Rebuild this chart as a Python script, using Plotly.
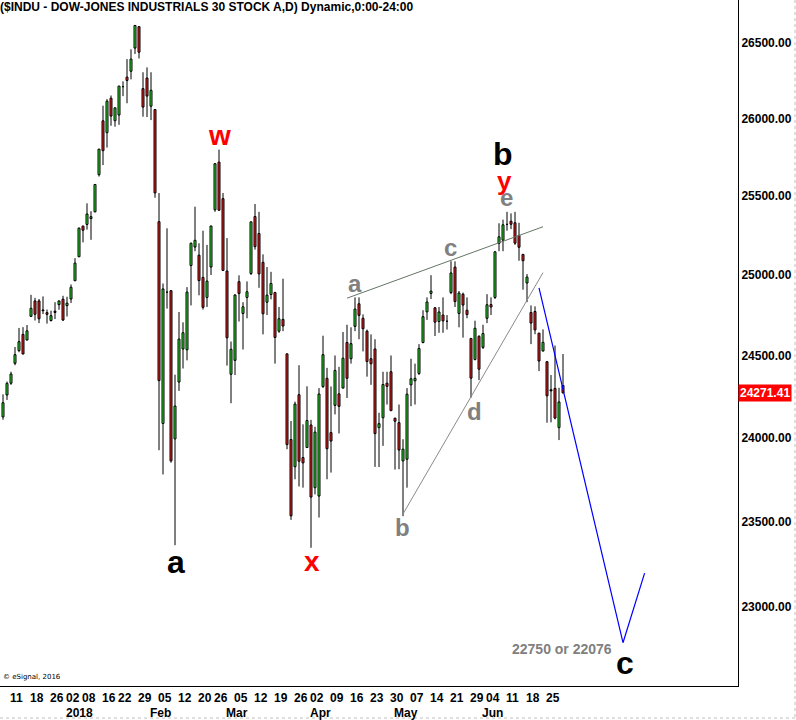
import math
import datetime as dt
import plotly.graph_objects as go

# ---------------- data (daily OHLC, $INDU) ----------------
dates = [
    "2017-12-07", "2017-12-08", "2017-12-11", "2017-12-12", "2017-12-13", "2017-12-14", "2017-12-15",
    "2017-12-18", "2017-12-19", "2017-12-20", "2017-12-21", "2017-12-22", "2017-12-26", "2017-12-27",
    "2017-12-28", "2017-12-29", "2018-01-02", "2018-01-03", "2018-01-04", "2018-01-05", "2018-01-08",
    "2018-01-09", "2018-01-10", "2018-01-11", "2018-01-12", "2018-01-16", "2018-01-17", "2018-01-18",
    "2018-01-19", "2018-01-22", "2018-01-23", "2018-01-24", "2018-01-25", "2018-01-26", "2018-01-29",
    "2018-01-30", "2018-01-31", "2018-02-01", "2018-02-02", "2018-02-05", "2018-02-06", "2018-02-07",
    "2018-02-08", "2018-02-09", "2018-02-12", "2018-02-13", "2018-02-14", "2018-02-15", "2018-02-16",
    "2018-02-20", "2018-02-21", "2018-02-22", "2018-02-23", "2018-02-26", "2018-02-27", "2018-02-28",
    "2018-03-01", "2018-03-02", "2018-03-05", "2018-03-06", "2018-03-07", "2018-03-08", "2018-03-09",
    "2018-03-12", "2018-03-13", "2018-03-14", "2018-03-15", "2018-03-16", "2018-03-19", "2018-03-20",
    "2018-03-21", "2018-03-22", "2018-03-23", "2018-03-26", "2018-03-27", "2018-03-28", "2018-03-29",
    "2018-04-02", "2018-04-03", "2018-04-04", "2018-04-05", "2018-04-06", "2018-04-09", "2018-04-10",
    "2018-04-11", "2018-04-12", "2018-04-13", "2018-04-16", "2018-04-17", "2018-04-18", "2018-04-19",
    "2018-04-20", "2018-04-23", "2018-04-24", "2018-04-25", "2018-04-26", "2018-04-27", "2018-04-30",
    "2018-05-01", "2018-05-02", "2018-05-03", "2018-05-04", "2018-05-07", "2018-05-08", "2018-05-09",
    "2018-05-10", "2018-05-11", "2018-05-14", "2018-05-15", "2018-05-16", "2018-05-17", "2018-05-18",
    "2018-05-21", "2018-05-22", "2018-05-23", "2018-05-24", "2018-05-25", "2018-05-29", "2018-05-30",
    "2018-05-31", "2018-06-01", "2018-06-04", "2018-06-05", "2018-06-06", "2018-06-07", "2018-06-08",
    "2018-06-11", "2018-06-12", "2018-06-13", "2018-06-14", "2018-06-15", "2018-06-18", "2018-06-19",
    "2018-06-20", "2018-06-21", "2018-06-22", "2018-06-25", "2018-06-26", "2018-06-27", "2018-06-28",
    "2018-06-29",
]

opens = [
    24125, 24258, 24330, 24452, 24530, 24630, 24595, 24742, 24838, 24838, 24777, 24765, 24716, 24766,
    24815, 24849, 24809, 24850, 24964, 25115, 25309, 25320, 25357, 25400, 25638, 25987, 25910, 26135,
    25988, 26025, 26214, 26274, 26313, 26466, 26609, 26198, 26268, 26083, 26061, 25337, 24085, 24894,
    24902, 23992, 24337, 24540, 24535, 25060, 25176, 25125, 24985, 24860, 25050, 25413, 25719, 25484,
    25025, 24385, 24470, 24958, 24760, 24860, 25010, 25370, 25262, 25080, 24830, 24878, 24890, 24650,
    24723, 24510, 23988, 23825, 24260, 23880, 23940, 24076, 23700, 23650, 24310, 24360, 24030, 24195,
    24265, 24300, 24580, 24480, 24680, 24820, 24730, 24650, 24480, 24540, 24060, 24120, 24330, 24400,
    24117, 24090, 23860, 23870, 24320, 24345, 24390, 24580, 24770, 24885, 24795, 24710, 24750, 24712,
    24890, 25050, 24760, 24880, 24780, 24605, 24475, 24618, 24550, 24730, 24815, 24860, 25200, 25220,
    25320, 25340, 25330, 25250, 25130, 24950, 24766, 24772, 24638, 24527, 24462, 24290, 24298, 24060,
    24316,
]
highs = [
    24262, 24340, 24400, 24552, 24670, 24675, 24688, 24876, 24857, 24850, 24866, 24784, 24777, 24830,
    24840, 24870, 24864, 24941, 25106, 25300, 25312, 25454, 25404, 25576, 25804, 26086, 26129, 26153,
    26072, 26215, 26246, 26393, 26458, 26617, 26609, 26306, 26338, 26306, 26061, 25520, 24947, 25295,
    24903, 24382, 24769, 24705, 24924, 25205, 25433, 25200, 25280, 25190, 25310, 25710, 25800, 25520,
    25233, 24586, 24880, 24998, 24830, 24960, 25336, 25450, 25400, 25130, 25050, 25020, 24895, 24800,
    24977, 24510, 24100, 24218, 24440, 24080, 24311, 24107, 24065, 24300, 24622, 24424, 24310, 24500,
    24430, 24645, 24690, 24674, 24860, 24860, 24754, 24660, 24630, 24600, 24150, 24400, 24400, 24500,
    24120, 24200, 23990, 24300, 24480, 24450, 24570, 24780, 24860, 24999, 24800, 24800, 24860, 24750,
    25087, 25086, 24900, 24890, 24860, 24605, 24715, 24625, 24690, 24880, 24860, 25150, 25327, 25350,
    25400, 25390, 25400, 25330, 25130, 25006, 24810, 24804, 24638, 24661, 24462, 24380, 24561, 24302,
    24509,
]
lows = [
    24108, 24228, 24320, 24440, 24520, 24508, 24594, 24740, 24716, 24700, 24756, 24697, 24710, 24725,
    24783, 24713, 24741, 24825, 24963, 25113, 25206, 25287, 25222, 25397, 25626, 25700, 25813, 25955,
    25949, 25961, 26149, 26102, 26259, 26427, 26397, 26014, 26012, 25992, 25490, 23924, 23779, 24790,
    23849, 23360, 24283, 24420, 24470, 24810, 25150, 24873, 24784, 24800, 25000, 25400, 25410, 25025,
    24438, 24208, 24380, 24710, 24537, 24730, 25000, 25160, 24920, 24630, 24750, 24848, 24450, 24640,
    24650, 23930, 23509, 23750, 23707, 23700, 23940, 23345, 23660, 23523, 24300, 23750, 23790, 24140,
    24025, 24300, 24240, 24450, 24650, 24600, 24525, 24370, 24320, 23824, 23823, 23950, 24200, 24160,
    23808, 23810, 23531, 23700, 24190, 24200, 24380, 24575, 24720, 24850, 24620, 24640, 24640, 24660,
    24880, 24800, 24674, 24610, 24730, 24242, 24470, 24349, 24540, 24700, 24750, 24850, 25150, 25150,
    25280, 25290, 25190, 25090, 24908, 24830, 24570, 24631, 24404, 24527, 24090, 24092, 24110, 23985,
    24267,
]
closes = [
    24211, 24329, 24386, 24505, 24585, 24509, 24652, 24792, 24755, 24727, 24782, 24754, 24746, 24774,
    24838, 24719, 24824, 24923, 25075, 25296, 25283, 25386, 25369, 25575, 25803, 25793, 26116, 26018,
    26072, 26215, 26211, 26252, 26393, 26617, 26439, 26077, 26149, 26187, 25521, 24346, 24913, 24893,
    23860, 24191, 24601, 24640, 24893, 25200, 25219, 24965, 24798, 24962, 25310, 25709, 25410, 25029,
    24609, 24538, 24875, 24884, 24801, 24895, 25336, 25179, 25007, 24758, 24874, 24947, 24611, 24727,
    24682, 23958, 23533, 24203, 23858, 23848, 24103, 23644, 24033, 24264, 24505, 23933, 23979, 24408,
    24189, 24483, 24360, 24573, 24787, 24748, 24665, 24463, 24449, 24024, 24084, 24322, 24311, 24163,
    24099, 23925, 23930, 24263, 24357, 24360, 24543, 24740, 24831, 24899, 24706, 24769, 24714, 24715,
    25013, 24834, 24887, 24812, 24753, 24361, 24668, 24416, 24635, 24814, 24800, 25146, 25241, 25317,
    25322, 25321, 25201, 25175, 25090, 24987, 24700, 24658, 24466, 24581, 24253, 24283, 24118, 24216,
    24271,
]

last_price = 24271.41
y_ticks = [23000, 23500, 24000, 24500, 25000, 25500, 26000, 26500]

# Elliott-wave drawings: (trading-day index, price)
upper_line_x = [86.0, 135.0]
upper_line_y = [24855, 25305]
lower_line_x = [99.85, 135.0]
lower_line_y = [23538, 25015]
proj_x = [134.0, 155.0, 160.4]
proj_y = [24919, 22795, 23197]

# wave labels: text, index, price, colour, size
wave_labels = [
    ("w", 54.0, 25890, "#ff0000", 28),
    ("a", 43.2, 23262, "#000000", 32),
    ("x", 77.2, 23262, "#ff0000", 28),
    ("a", 88.0, 24950, "#808080", 24),
    ("c", 111.85, 25175, "#808080", 24),
    ("d", 117.9, 24160, "#808080", 24),
    ("b", 99.85, 23462, "#808080", 24),
    ("e", 125.85, 25490, "#808080", 24),
    ("y", 125.3, 25600, "#ff0000", 26),
    ("b", 125.05, 25770, "#000000", 32),
    ("c", 155.6, 22680, "#000000", 32),
]
target_text = "22750 or 22076"
target_pos = (139.75, 22759)

title_text = "($INDU - DOW-JONES INDUSTRIALS 30 STOCK A,D) Dynamic,0:00-24:00"

# ---------------- figure ----------------
FONT = "Liberation Sans, Arial, sans-serif"
GREEN = "#28f028"
RED = "#ff2020"
PX_X = 0.25            # one pixel in trading-day units
PX_LOG = 1 / 9169.0    # one pixel in log10(price) units

n = len(dates)
x_idx = list(range(n))

# wicks (upper and lower parts)
wx, wy = [], []
for i in x_idx:
    top = max(opens[i], closes[i])
    bot = min(opens[i], closes[i])
    wx += [i, i, None, i, i, None]
    wy += [top, highs[i], None, lows[i], bot, None]


def rects(sel, half_w, inset_px):
    bx, by = [], []
    f = 10 ** (inset_px * PX_LOG)
    for i in x_idx:
        o, c = opens[i], closes[i]
        if not sel(o, c):
            continue
        hi, lo = max(o, c) / f, min(o, c) * f
        if hi <= lo:
            continue
        bx += [i - half_w, i + half_w, i + half_w, i - half_w, i - half_w, None]
        by += [lo, lo, hi, hi, lo, None]
    return bx, by


fig = go.Figure()
fig.add_trace(go.Scatter(x=wx, y=wy, mode="lines", line=dict(color="black", width=1),
                         showlegend=False, hoverinfo="skip"))
# black body frames (3 px wide)
bx, by = rects(lambda o, c: True, 1 * PX_X, 0)
fig.add_trace(go.Scatter(x=bx, y=by, mode="lines", fill="toself", fillcolor="black",
                         line=dict(color="black", width=1), showlegend=False, hoverinfo="skip"))
# coloured body centres
for sel, col in ((lambda o, c: c >= o, GREEN), (lambda o, c: c < o, RED)):
    bx, by = rects(sel, 0.5 * PX_X, 0.5)
    fig.add_trace(go.Scatter(x=bx, y=by, mode="lines", fill="toself", fillcolor=col,
                             line=dict(color=col, width=0), showlegend=False, hoverinfo="skip"))

fig.add_trace(go.Scatter(x=upper_line_x, y=upper_line_y, mode="lines",
                         line=dict(color="#657565", width=1), showlegend=False, hoverinfo="skip"))
fig.add_trace(go.Scatter(x=lower_line_x, y=lower_line_y, mode="lines",
                         line=dict(color="#8a8a8a", width=1), showlegend=False, hoverinfo="skip"))
fig.add_trace(go.Scatter(x=proj_x, y=proj_y, mode="lines",
                         line=dict(color="#0000ff", width=1.2), showlegend=False, hoverinfo="skip"))

ann = []
for txt, xi, pr, col, sz in wave_labels:
    ann.append(dict(x=xi, y=math.log10(pr), xref="x", yref="y", text=txt, showarrow=False,
                    font=dict(family=FONT, size=sz, color=col, weight="bold")))
ann.append(dict(x=target_pos[0], y=math.log10(target_pos[1]), xref="x", yref="y", text=target_text,
                showarrow=False, font=dict(family=FONT, size=14, color="#808080", weight="bold")))

# title
ann.append(dict(x=0, y=1, xref="paper", yref="paper", xanchor="left", yanchor="top", xshift=-2, yshift=2,
                text=title_text, showarrow=False,
                font=dict(family=FONT, size=12, color="black", weight="bold")))
# copyright
ann.append(dict(x=0, y=0, xref="paper", yref="paper", xanchor="left", yanchor="middle", xshift=1, yshift=9,
                text="\u00a9 eSignal, 2016", showarrow=False,
                font=dict(family="DejaVu Sans", size=7, color="black")))
# last price tag
ann.append(dict(x=1, y=math.log10(last_price), xref="paper", yref="y", xanchor="left", xshift=0,
                text=f"{last_price:.2f}", showarrow=False, bgcolor="#ff0000", borderpad=1,
                font=dict(family=FONT, size=12, color="white", weight="bold")))

# date labels (first trading day of each week, first trading day of each month)
dts = [dt.date.fromisoformat(d) for d in dates]
for i in range(1, n):
    if dts[i].isocalendar()[1] != dts[i - 1].isocalendar()[1]:
        ann.append(dict(x=i, y=0, xref="x", yref="paper", xanchor="left", yanchor="top", xshift=-3, yshift=-3,
                        text=f"{dts[i].day:02d}", showarrow=False,
                        font=dict(family=FONT, size=12, color="black", weight="bold")))
    if dts[i].month != dts[i - 1].month:
        lab = str(dts[i].year) if dts[i].month == 1 else dts[i].strftime("%b")
        ann.append(dict(x=i, y=0, xref="x", yref="paper", xanchor="left", yanchor="top", xshift=-3, yshift=-18,
                        text=lab, showarrow=False,
                        font=dict(family=FONT, size=12, color="black", weight="bold")))

y_lo = math.log10(26500) - 643 / 9169.0
y_hi = math.log10(26500) + 43 / 9169.0
x_lo = -0.75

fig.update_layout(
    width=796, height=720,
    margin=dict(l=0, r=58, t=0, b=34),
    paper_bgcolor="white", plot_bgcolor="white",
    annotations=ann,
    shapes=[
        dict(type="line", xref="paper", yref="paper", x0=795 / 738, x1=795 / 738, y0=1, y1=-32 / 686,
             line=dict(color="#c0c0c0", width=1, dash="dot")),
        dict(type="line", xref="paper", yref="paper", x0=0, x1=795 / 738, y0=-32 / 686, y1=-32 / 686,
             line=dict(color="#c0c0c0", width=1, dash="dot")),
    ],
    xaxis=dict(range=[x_lo, x_lo + 738 / 4], showgrid=False, zeroline=False, showticklabels=False,
               showline=True, linecolor="black", linewidth=1, ticks="", fixedrange=True),
    yaxis=dict(type="log", range=[y_lo, y_hi], side="right", showgrid=False, zeroline=False,
               showline=True, linecolor="black", linewidth=1, ticks="",
               tickvals=y_ticks, ticktext=[f"{v:.2f}" for v in y_ticks],
               tickfont=dict(family=FONT, size=12, color="black", weight="bold"),
               fixedrange=True),
    showlegend=False,
)

fig.write_html("out.html", config={"displayModeBar": False},
               post_script="document.body.style.margin='0';document.body.style.padding='0';")
